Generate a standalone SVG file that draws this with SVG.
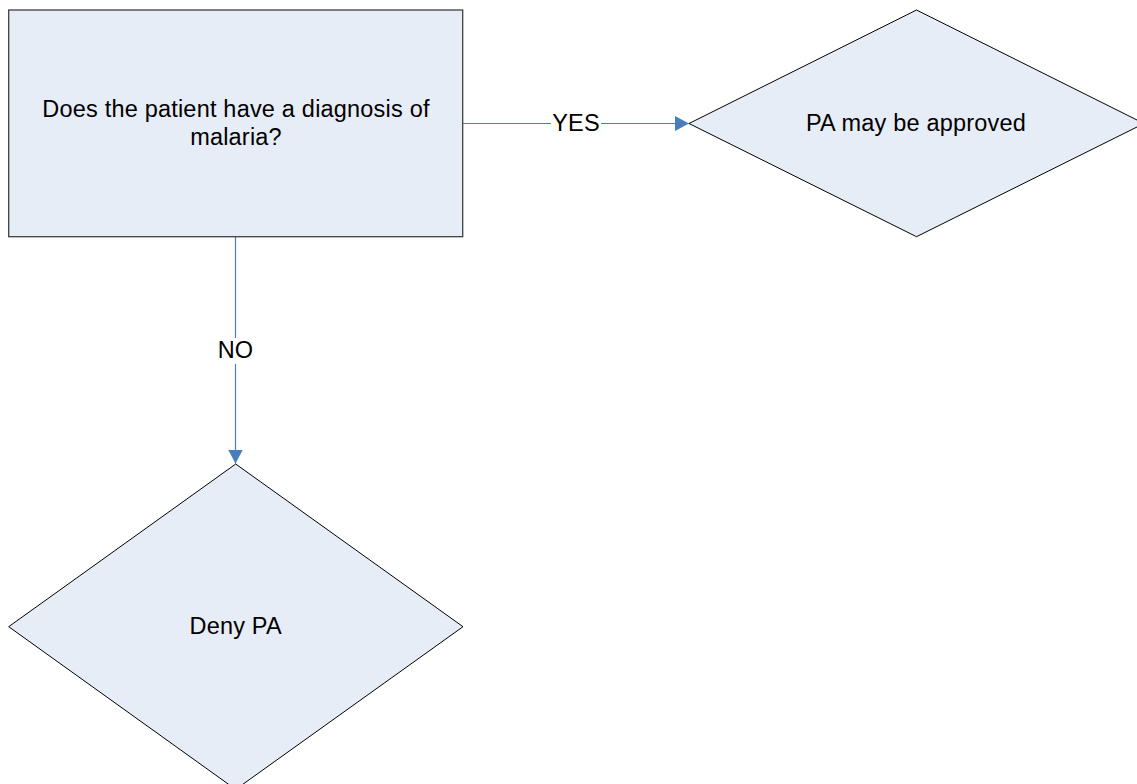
<svg xmlns="http://www.w3.org/2000/svg" width="1137" height="784" viewBox="0 0 1137 784">
<style>
.shape{fill:#e6edf7;stroke:#000;stroke-width:1}
.box{fill:#e6edf7;stroke:#404040;stroke-width:1.3}
.t{font-family:"Liberation Sans",Arial,sans-serif;font-size:23.5px;letter-spacing:0.2px;fill:#000;text-anchor:middle}
.conn{stroke:#4a7ebb;stroke-width:1.2;fill:none}
</style>
<defs>
<marker id="arr" markerWidth="14" markerHeight="15" refX="14" refY="7.5" orient="auto" markerUnits="userSpaceOnUse">
<path d="M0,0 L14,7.5 L0,15 Z" fill="#4a7ebb"/>
</marker>
</defs>
<rect width="1137" height="784" fill="#fff"/>
<g id="connectors">
<line class="conn" x1="463" y1="123.5" x2="689" y2="123.5" marker-end="url(#arr)"/>
<rect x="551" y="112" width="50" height="24" fill="#fff"/>
<text class="t" x="576" y="130.5">YES</text>
<line class="conn" x1="235.5" y1="237" x2="235.5" y2="463.5" marker-end="url(#arr)"/>
<rect x="216" y="338" width="38" height="26" fill="#fff"/>
<text class="t" x="235.5" y="357.5">NO</text>
</g>
<g id="node-question">
<rect class="box" x="8.7" y="10" width="454" height="226.7"/>
<text class="t" x="236" y="116.5">Does the patient have a diagnosis of</text>
<text class="t" x="236" y="144.5">malaria?</text>
</g>
<g id="node-approved">
<polygon class="shape" points="916.5,10 1144,123.5 916.5,236.7 689,123.5"/>
<text class="t" x="916" y="131">PA may be approved</text>
</g>
<g id="node-deny">
<polygon class="shape" points="235.7,464 463,626.7 235.7,789.4 8.7,626.7"/>
<text class="t" x="235.7" y="634">Deny PA</text>
</g>
</svg>
